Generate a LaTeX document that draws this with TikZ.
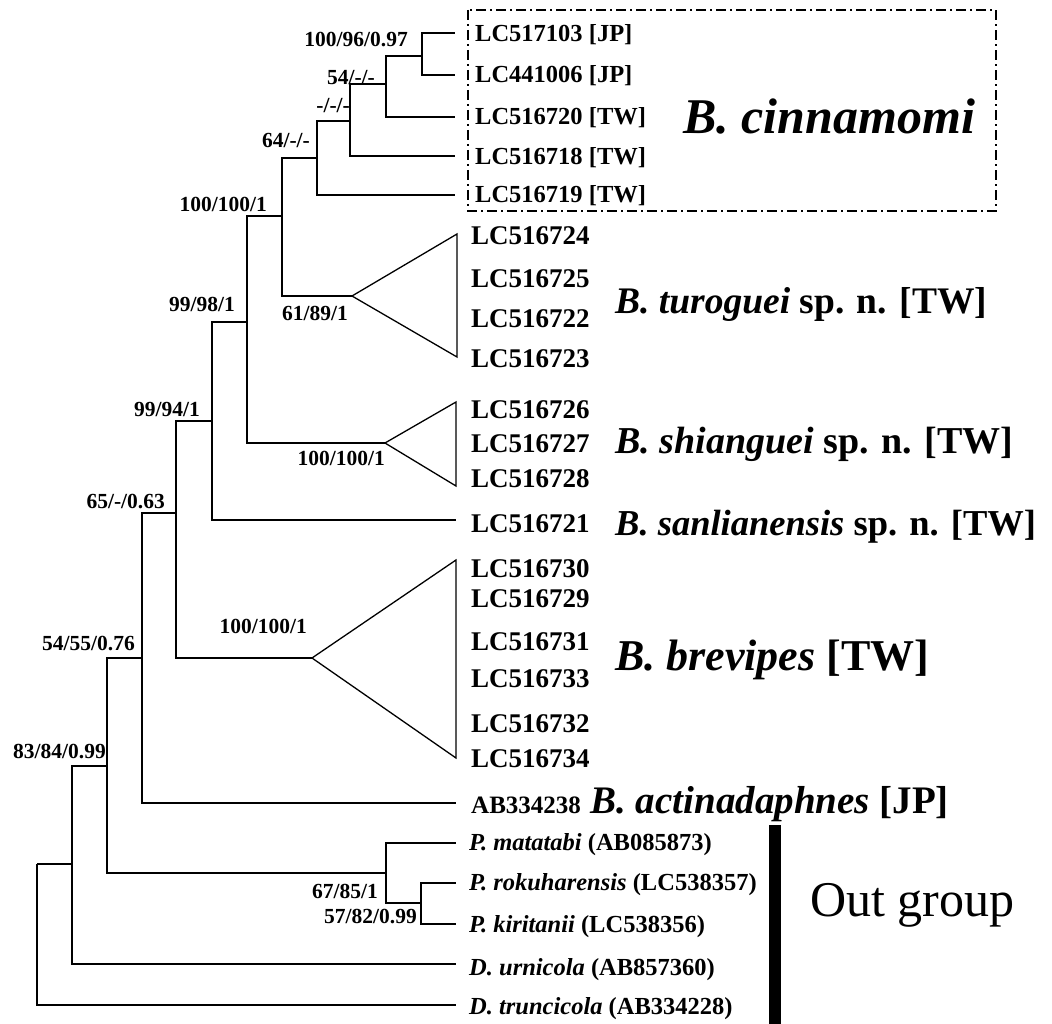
\documentclass[tikz,border=0pt]{standalone}
\usepackage{fontspec}
\setmainfont{Liberation Serif}
\begin{document}
\begin{tikzpicture}[x=1pt,y=-1pt,
  branch/.style={line width=1.7pt},
  clade/.style={line width=1.3pt},
  supp/.style={font=\fontsize{21.5}{24}\selectfont\bfseries,inner sep=0pt,anchor=base east},
  tip/.style={font=\fontsize{27}{30}\selectfont\bfseries,inner sep=0pt,anchor=base west},
  tipsmall/.style={font=\fontsize{24.5}{27}\selectfont\bfseries,inner sep=0pt,anchor=base west},
  species/.style={font=\fontsize{37.5}{42}\selectfont\bfseries,inner sep=0pt,anchor=base west}]
  \useasboundingbox (0,0) rectangle (1052,1024);
  % internal nodes
  \coordinate (r0) at (37,864);
  \coordinate (n1) at (72,864);
  \coordinate (n2) at (107,766);
  \coordinate (n3) at (142,658);
  \coordinate (n4) at (176,513);
  \coordinate (n5) at (212,421);
  \coordinate (n6) at (247,322);
  \coordinate (n7) at (282,216);
  \coordinate (n8) at (317,158);
  \coordinate (n9) at (350,121);
  \coordinate (n10) at (386,84);
  \coordinate (n11) at (422,56);
  \coordinate (p1) at (386,873);
  \coordinate (p2) at (421,903);
  % collapsed clades
  \coordinate (tu) at (352,296);
  \coordinate (sh) at (385,443);
  \coordinate (br) at (312,658);
  % tips
  \coordinate (a1) at (455,33);
  \coordinate (a2) at (455,75);
  \coordinate (a3) at (455,117);
  \coordinate (a4) at (455,156);
  \coordinate (a5) at (455,195);
  \coordinate (sa) at (456,520);
  \coordinate (ab) at (456,803);
  \coordinate (pm) at (456,843);
  \coordinate (pr) at (456,883);
  \coordinate (pk) at (456,924);
  \coordinate (du) at (456,964);
  \coordinate (dt) at (456,1005);
  % branches
  \draw[branch] (r0) |- (n1) (r0) |- (dt)
    (n1) |- (n2) (n1) |- (du)
    (n2) |- (n3) (n2) |- (p1)
    (n3) |- (n4) (n3) |- (ab)
    (n4) |- (n5) (n4) |- (br)
    (n5) |- (n6) (n5) |- (sa)
    (n6) |- (n7) (n6) |- (sh)
    (n7) |- (n8) (n7) |- (tu)
    (n8) |- (n9) (n8) |- (a5)
    (n9) |- (n10) (n9) |- (a4)
    (n10) |- (n11) (n10) |- (a3)
    (n11) |- (a1) (n11) |- (a2)
    (p1) |- (pm) (p1) |- (p2)
    (p2) |- (pr) (p2) |- (pk);
  \draw[clade] (tu) -- (457,234) -- (457,357) -- cycle;
  \draw[clade] (sh) -- (456,402) -- (456,486) -- cycle;
  \draw[clade] (br) -- (456,560) -- (456,758) -- cycle;
  % B. cinnamomi box
  \draw[line width=1.1pt,dash pattern=on 10pt off 4pt on 2pt off 4pt] (468,10) rectangle (996,211);
  % outgroup bar
  \fill (769,825) rectangle (781,1024);
  % support values
  \node[supp] (s1) at (408,47) {100/96/0.97};
  \node[supp] (s2) at (375,85) {54/-/-};
  \node[supp] (s3) at (350,113) {-/-/-};
  \node[supp] (s4) at (310,148) {64/-/-};
  \node[supp] (s5) at (267,212) {100/100/1};
  \node[supp] (s6) at (348,320) {61/89/1};
  \node[supp] (s7) at (235,312) {99/98/1};
  \node[supp] (s8) at (200,416) {99/94/1};
  \node[supp] (s9) at (385,465) {100/100/1};
  \node[supp] (s10) at (165,508) {65/-/0.63};
  \node[supp] (s11) at (307,633) {100/100/1};
  \node[supp] (s12) at (135,650) {54/55/0.76};
  \node[supp] (s13) at (106,758) {83/84/0.99};
  \node[supp] (s14) at (378,898) {67/85/1};
  \node[supp] (s15) at (417,923) {57/82/0.99};
  % tip labels
  \node[tipsmall] (t1) at (475,42) {LC517103 [JP]};
  \node[tipsmall] (t2) at (475,83) {LC441006 [JP]};
  \node[tipsmall] (t3) at (475,125) {LC516720 [TW]};
  \node[tipsmall] (t4) at (475,165) {LC516718 [TW]};
  \node[tipsmall] (t5) at (475,203) {LC516719 [TW]};
  \node[tip] (t6) at (471,245) {LC516724};
  \node[tip] (t7) at (471,288) {LC516725};
  \node[tip] (t8) at (471,327) {LC516722};
  \node[tip] (t9) at (471,367) {LC516723};
  \node[tip] (t10) at (471,418) {LC516726};
  \node[tip] (t11) at (471,452) {LC516727};
  \node[tip] (t12) at (471,487) {LC516728};
  \node[tip] (t13) at (471,532) {LC516721};
  \node[tip] (t14) at (471,577) {LC516730};
  \node[tip] (t15) at (471,607) {LC516729};
  \node[tip] (t16) at (471,650) {LC516731};
  \node[tip] (t17) at (471,687) {LC516733};
  \node[tip] (t18) at (471,732) {LC516732};
  \node[tip] (t19) at (471,767) {LC516734};
  \node[tip,font=\fontsize{25}{28}\selectfont\bfseries] (t20) at (471,813) {AB334238};
  \node[tipsmall] (t21) at (469,850) {\textit{P. matatabi} (AB085873)};
  \node[tipsmall] (t22) at (469,890) {\textit{P. rokuharensis} (LC538357)};
  \node[tipsmall] (t23) at (469,932) {\textit{P. kiritanii} (LC538356)};
  \node[tipsmall] (t24) at (469,975) {\textit{D. urnicola} (AB857360)};
  \node[tipsmall] (t25) at (469,1014) {\textit{D. truncicola} (AB334228)};
  % species names
  \node[species,font=\fontsize{50}{55}\selectfont\bfseries\itshape] (g1) at (683,134) {B. cinnamomi};
  \node[species] (g2) at (615,313) {\textit{B. turoguei} sp. n. [TW]};
  \node[species,font=\fontsize{38}{42}\selectfont\bfseries] (g3) at (615,453) {\textit{B. shianguei} sp. n. [TW]};
  \node[species,font=\fontsize{36.5}{40}\selectfont\bfseries] (g4) at (615,535) {\textit{B. sanlianensis} sp. n. [TW]};
  \node[species,font=\fontsize{44}{48}\selectfont\bfseries] (g5) at (615,670) {\textit{B. brevipes} [TW]};
  \node[species,font=\fontsize{39}{42}\selectfont\bfseries] (g6) at ([xshift=9pt]t20.base east) {\textit{B. actinadaphnes} [JP]};
  \node[species,font=\fontsize{50}{55}\selectfont] (g7) at (810,916) {Out group};
\end{tikzpicture}
\end{document}
